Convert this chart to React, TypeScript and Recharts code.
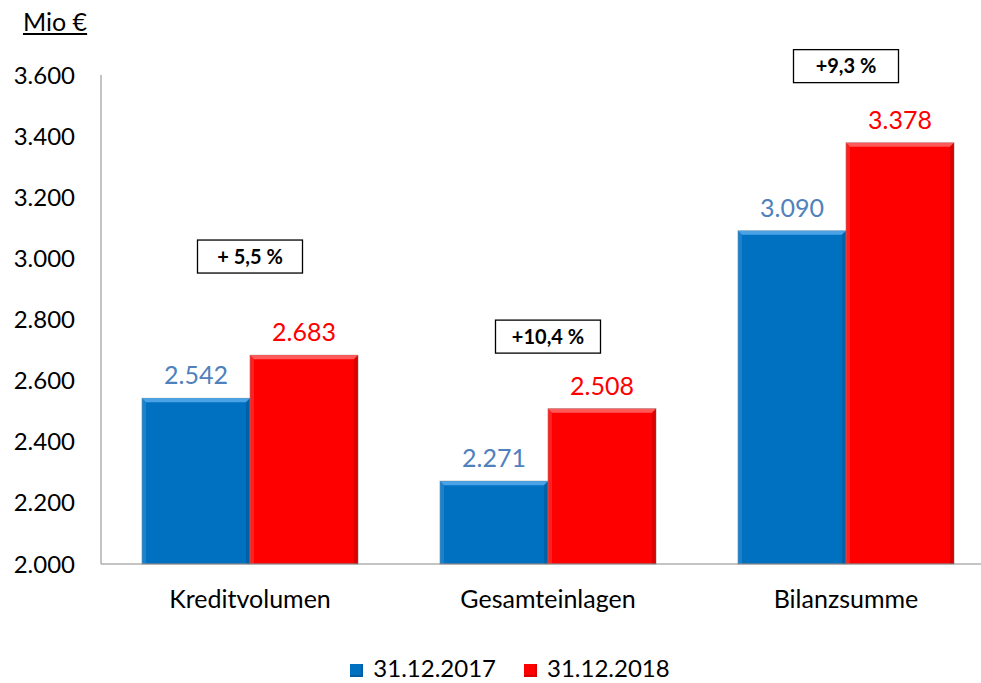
import { BarChart, Bar, XAxis, YAxis, LabelList, ReferenceDot, Legend } from "recharts";

const categories = ["Kreditvolumen", "Gesamteinlagen", "Bilanzsumme"];
const values2017 = [2542, 2271, 3090];
const values2018 = [2683, 2508, 3378];
const yTicks = [2000, 2200, 2400, 2600, 2800, 3000, 3200, 3400, 3600];
const seriesNames = ["31.12.2017", "31.12.2018"];
// Veränderung in % und Höhe (Mio €), auf der das Kästchen steht
const changeLabels = ["+ 5,5 %", "+10,4 %", "+9,3 %"];
const changeLevels = [3006, 2744, 3629];

const data = categories.map((name, i) => ({
  name,
  v2017: values2017[i],
  v2018: values2018[i],
}));

const FONT = "Lato, 'Open Sans', sans-serif";
const BLUE = "#0070C0";
const RED = "#FF0000";

const fmt = (v: number) => String(v).replace(/\B(?=(\d{3})+(?!\d))/g, ".");

function bevelBar(fill: string, light: string, dark: string) {
  return (props: any) => {
    const { x, y, width, height } = props;
    if (!height || height <= 0) return <g />;
    const b = 4;
    return (
      <g>
        <rect x={x} y={y} width={width} height={height} fill={fill} stroke="#7f7f7f" strokeOpacity={0.6} strokeWidth={1} />
        <polygon points={`${x},${y} ${x + width},${y} ${x + width - b},${y + b} ${x + b},${y + b}`} fill={light} />
        <polygon points={`${x},${y} ${x + b},${y + b} ${x + b},${y + height} ${x},${y + height}`} fill={light} fillOpacity={0.35} />
        <polygon points={`${x + width},${y} ${x + width - b},${y + b} ${x + width - b},${y + height} ${x + width},${y + height}`} fill={dark} fillOpacity={0.4} />
      </g>
    );
  };
}

function valueLabel(color: string) {
  return (props: any) => {
    const { x, y, width, value } = props;
    return (
      <text x={x + width / 2} y={y - 14} textAnchor="middle" fill={color} fontSize={25} fontFamily={FONT}>
        {fmt(value)}
      </text>
    );
  };
}

function changeBox(label: string) {
  return (props: any) => {
    const { cx, cy } = props;
    return (
      <g>
        <rect x={cx - 52.5} y={cy - 16.5} width={105} height={33} fill="#fff" stroke="#000" strokeWidth={1.3} />
        <text x={cx} y={cy + 7} textAnchor="middle" fontSize={20} fontWeight="bold" fontFamily={FONT} fill="#000">
          {label}
        </text>
      </g>
    );
  };
}

function LegendContent() {
  const colors = [BLUE, RED];
  return (
    <div style={{ display: "flex", justifyContent: "center", paddingLeft: 25, paddingTop: 11, gap: 28, fontFamily: FONT, fontSize: 24, lineHeight: "28px", color: "#000" }}>
      {seriesNames.map((n, i) => (
        <div key={n} style={{ display: "flex", alignItems: "center" }}>
          <span style={{ width: 13, height: 13, background: colors[i], display: "inline-block", marginRight: 10, marginTop: 4, boxShadow: "inset -2px -2px 0 rgba(0,0,0,0.15)" }} />
          <span>{n}</span>
        </div>
      ))}
    </div>
  );
}

export default function App() {
  return (
    <div style={{ position: "absolute", left: 0, top: 0, width: 981, height: 683, overflow: "hidden", background: "#fff" }}>
      <div style={{ position: "absolute", left: 23, top: 6, fontFamily: FONT, fontSize: 25, textDecoration: "underline", color: "#000", zIndex: 1 }}>
        Mio €
      </div>
      <BarChart width={1000} height={683} data={data} margin={{ top: 75, right: 5, left: 0, bottom: 0 }} barCategoryGap={41} barGap={0}>
        <XAxis
          dataKey="name"
          axisLine={{ stroke: "#898989" }}
          tickLine={false}
          tickSize={0}
          tickMargin={26}
          height={79}
          tick={{ fontSize: 25, fill: "#000", fontFamily: FONT }}
        />
        <YAxis
          domain={[2000, 3600]}
          ticks={yTicks}
          tickFormatter={fmt}
          axisLine={{ stroke: "#898989" }}
          tickLine={false}
          tickSize={0}
          tickMargin={26}
          width={101}
          tick={{ fontSize: 24, fill: "#000", fontFamily: FONT }}
        />
        <Legend verticalAlign="bottom" height={40} content={<LegendContent />} />
        <Bar dataKey="v2017" name={seriesNames[0]} fill={BLUE} isAnimationActive={false} shape={bevelBar(BLUE, "#4aa3e6", "#004a80")}>
          <LabelList dataKey="v2017" content={valueLabel("#4F81BD")} />
        </Bar>
        <Bar dataKey="v2018" name={seriesNames[1]} fill={RED} isAnimationActive={false} shape={bevelBar(RED, "#ff5a5a", "#a00000")}>
          <LabelList dataKey="v2018" content={valueLabel(RED)} />
        </Bar>
        {categories.map((c, i) => (
          <ReferenceDot key={c} x={c} y={changeLevels[i]} ifOverflow="visible" shape={changeBox(changeLabels[i])} />
        ))}
      </BarChart>
    </div>
  );
}
